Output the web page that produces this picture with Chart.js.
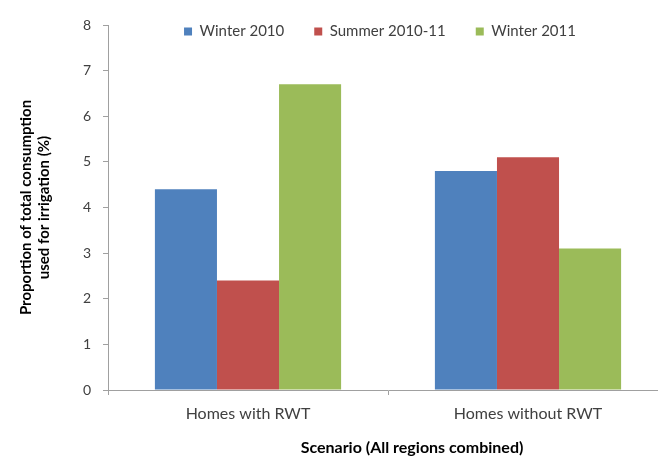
<!DOCTYPE html>
<html>
<head>
<meta charset="utf-8">
<script src="https://cdn.jsdelivr.net/npm/chart.js@4"></script>
<style>
  html, body { margin: 0; padding: 0; background: #fff; overflow: hidden; }
  #wrap { width: 668px; height: 457px; }
</style>
</head>
<body>
<div id="wrap"><canvas id="BarChart" width="668" height="457"></canvas></div>
<script>
// Data
var categories = ['Homes with RWT', 'Homes without RWT'];
var seriesNames = ['Winter 2010', 'Summer 2010-11', 'Winter 2011'];
var winter2010 = [4.4, 4.8];
var summer2010 = [2.4, 5.1];
var winter2011 = [6.7, 3.1];
var yTicks = [0, 1, 2, 3, 4, 5, 6, 7, 8];

var colors = ['#4F81BD', '#C0504D', '#9BBB59'];
var font = 'Lato, "Open Sans", sans-serif';

// legend sits over the top of the plot, like the Excel original
var legendOverlay = {
    id: 'legendOverlay',
    afterInit: function(chart) {
        var lg = chart.legend;
        var fit = lg.fit;
        lg.fit = function() {
            fit.call(this);
            this.height = 25;
        };
    },
    afterLayout: function(chart) {
        var lg = chart.legend;
        lg.top = -6;
        lg.bottom = 60;
        lg.left = chart.chartArea.left - 8;
        lg.right = chart.chartArea.right - 8;

        // x title is a bit right of the plot centre in the original
        var xs = chart.scales.x;
        if (!xs._titleShifted) {
            var drawTitle = xs.drawTitle;
            xs.drawTitle = function() {
                this.ctx.save();
                this.ctx.translate(24, 0);
                drawTitle.call(this);
                this.ctx.restore();
            };
            xs._titleShifted = true;
        }
    }
};

var ctx = document.getElementById('BarChart').getContext('2d');
var myBarChart = new Chart(ctx, {
    type: 'bar',
    data: {
        labels: categories,
        datasets: [{
            label: seriesNames[0],
            data: winter2010,
            backgroundColor: colors[0]
        }, {
            label: seriesNames[1],
            data: summer2010,
            backgroundColor: colors[1]
        }, {
            label: seriesNames[2],
            data: winter2011,
            backgroundColor: colors[2]
        }]
    },
    plugins: [legendOverlay],
    options: {
        responsive: false,
        animation: false,
        layout: { padding: 0 },
        datasets: {
            bar: { categoryPercentage: 0.665, barPercentage: 1.0 }
        },
        plugins: {
            legend: {
                position: 'top',
                labels: {
                    boxWidth: 8,
                    boxHeight: 8,
                    padding: 30,
                    color: '#404040',
                    font: { family: font, size: 15 }
                }
            },
            tooltip: { enabled: false }
        },
        scales: {
            x: {
                grid: {
                    drawOnChartArea: false,
                    tickLength: 5,
                    color: '#A0A0A0'
                },
                border: { color: '#A0A0A0' },
                ticks: {
                    color: '#404040',
                    padding: 9,
                    font: { family: font, size: 16 }
                },
                title: {
                    display: true,
                    text: 'Scenario (All regions combined)',
                    color: '#000',
                    padding: { top: 0, bottom: 0 },
                    font: { family: font, size: 16, weight: 'bold' }
                },
                afterFit: function(s) { s.height = 67; }
            },
            y: {
                min: 0,
                max: 8,
                afterBuildTicks: function(s) {
                    s.ticks = yTicks.map(function(v) { return { value: v }; });
                },
                grid: {
                    drawOnChartArea: false,
                    tickLength: 5,
                    color: '#A0A0A0'
                },
                border: { color: '#A0A0A0' },
                ticks: {
                    color: '#404040',
                    padding: 12,
                    font: { family: font, size: 14 }
                },
                title: {
                    display: true,
                    text: ['Proportion of total consumption', 'used for irrigation (%)'],
                    color: '#000',
                    padding: { top: 18, bottom: 0 },
                    font: { family: font, size: 15, weight: 'bold', lineHeight: 1.15 }
                },
                afterFit: function(s) { s.width = 108; }
            }
        }
    }
});
</script>
</body>
</html>
